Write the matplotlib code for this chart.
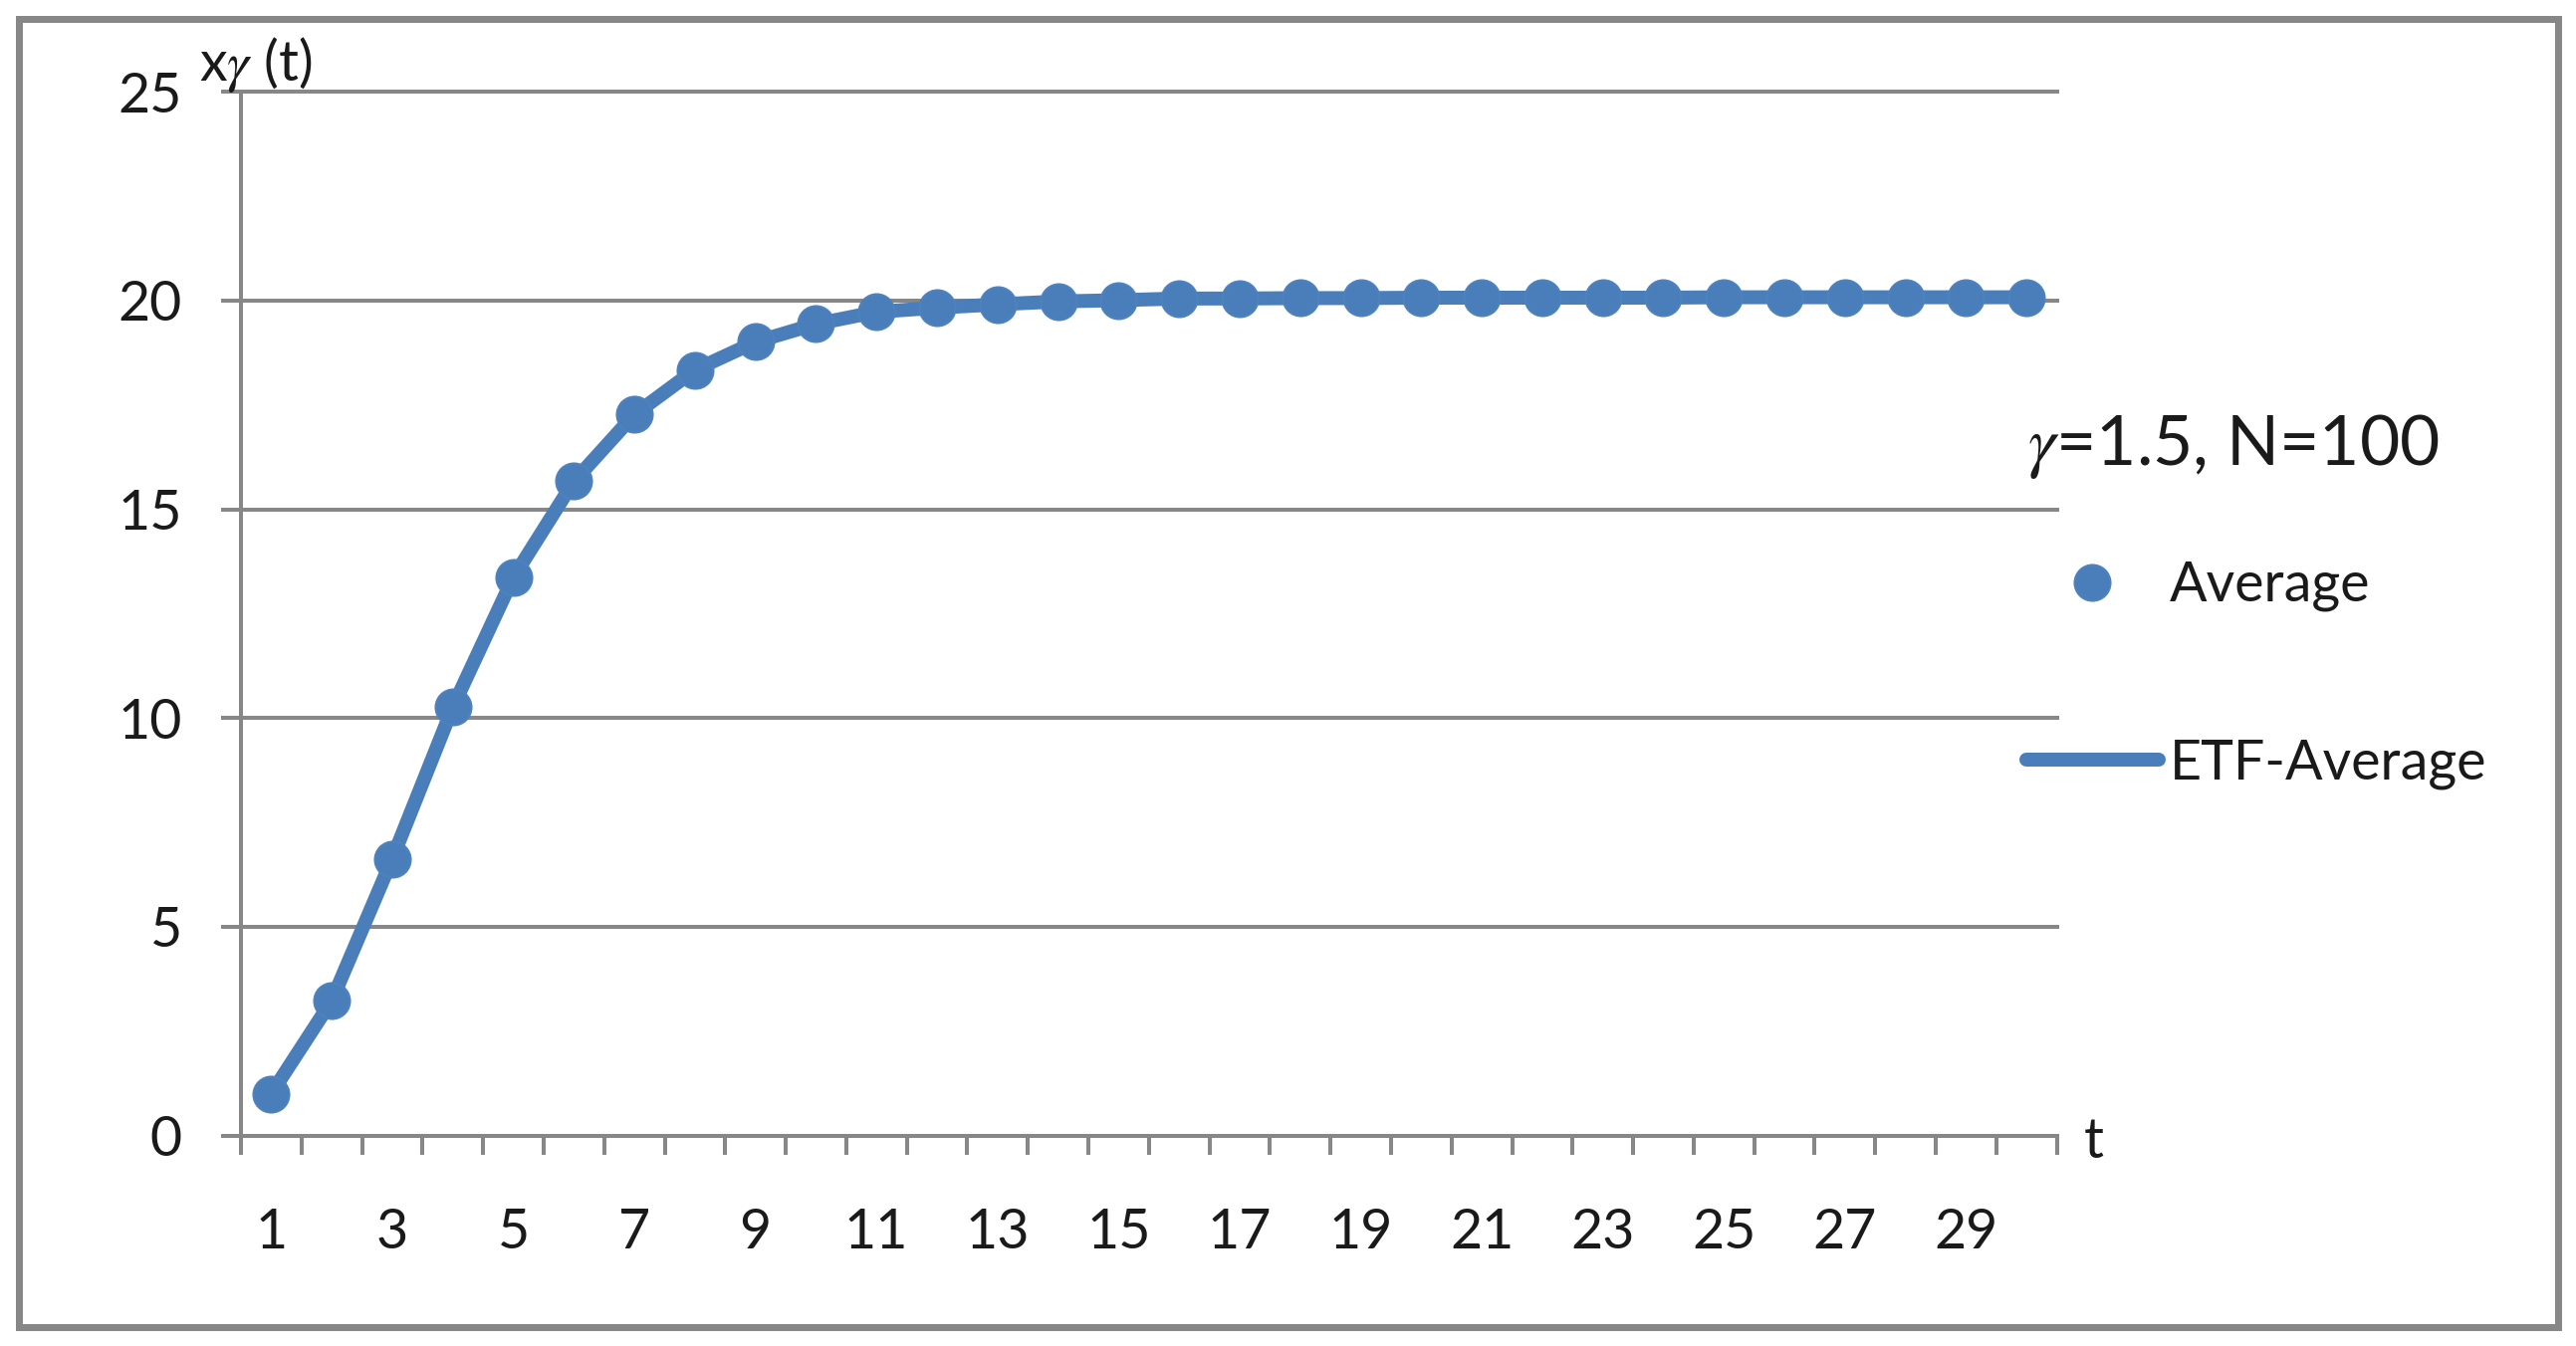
import matplotlib
matplotlib.use("Agg")
import matplotlib.pyplot as plt
from matplotlib.patches import Rectangle
from matplotlib.lines import Line2D

# ---- data ----
t_values = list(range(1, 31))
average = [1.00, 3.23, 6.63, 10.26, 13.37, 15.67, 17.27, 18.34, 19.01, 19.44,
           19.73, 19.83, 19.91, 19.98, 20.01, 20.05, 20.05, 20.06, 20.06, 20.07,
           20.07, 20.07, 20.07, 20.07, 20.08, 20.08, 20.08, 20.08, 20.08, 20.08]
etf_average = [1.00, 3.23, 6.63, 10.26, 13.37, 15.67, 17.27, 18.34, 19.01, 19.44,
               19.73, 19.83, 19.91, 19.98, 20.01, 20.05, 20.05, 20.06, 20.06, 20.07,
               20.07, 20.07, 20.07, 20.07, 20.08, 20.08, 20.08, 20.08, 20.08, 20.08]
y_ticks = [0, 5, 10, 15, 20, 25]
x_label_positions = list(range(1, 31, 2))
x_tick_labels = [str(v) for v in x_label_positions]
legend_title = r"$\gamma$=1.5, N=100"
series_names = ["Average", "ETF-Average"]

# ---- style ----
W, H, DPI = 2587, 1352, 100
PX = 72.0 / DPI  # points per pixel
BLUE = "#4A7EBB"
GRAY = "#878787"
TXT = "#1A1A1A"
plt.rcParams["font.family"] = ["Lato", "DejaVu Sans"]
plt.rcParams["mathtext.fontset"] = "stix"

fig = plt.figure(figsize=(W / DPI, H / DPI), dpi=DPI)
fig.patch.set_facecolor("white")

ax_left, ax_right = 242, 2065.6
y0_px, y25_px = 1140.5, 92.3
ax = fig.add_axes([ax_left / W, 1 - y0_px / H, (ax_right - ax_left) / W, (y0_px - y25_px) / H])

ax.plot(t_values, etf_average, color=BLUE, lw=14 * PX, solid_capstyle="round", zorder=3)
ax.plot(t_values, average, linestyle="none", marker="o", ms=36 * PX,
        mfc=BLUE, mec="#4E82BF", mew=1.5, zorder=4)

ax.set_xlim(0.5, 30.5)
ax.set_ylim(0, 25)

for s in ["top", "right"]:
    ax.spines[s].set_visible(False)
for s in ["left", "bottom"]:
    ax.spines[s].set_color(GRAY)
    ax.spines[s].set_linewidth(4 * PX)

ax.set_yticks(y_ticks)
ax.yaxis.grid(True, color=GRAY, lw=4 * PX)
for gl in ax.get_ygridlines():
    gl.set_clip_on(False)
ax.set_axisbelow(True)
ax.tick_params(axis="y", direction="out", length=20 * PX, width=4 * PX, color=GRAY,
               labelsize=40, labelcolor=TXT, pad=39 * PX)

ax.set_xticks([v + 0.5 for v in range(0, 31)])
ax.set_xticklabels([])
ax.set_xticks(x_label_positions, minor=True)
ax.set_xticklabels(x_tick_labels, minor=True)
ax.tick_params(axis="x", which="major", direction="out", length=19 * PX, width=4 * PX, color=GRAY)
ax.tick_params(axis="x", which="minor", length=0, labelsize=40, labelcolor=TXT, pad=73 * PX)

# axis titles
fig.text(200 / W, 1 - 81 / H, r"x$\gamma$ (t)", fontsize=40, color=TXT, va="baseline", ha="left")
fig.text(2093 / W, 1 - 1163 / H, "t", fontsize=40, color=TXT, va="baseline", ha="left")

# legend
fig.text(2036 / W, 1 - 467 / H, legend_title, fontsize=50, color=TXT, va="baseline", ha="left")
handles = [Line2D([], [], linestyle="none", marker="o", ms=36 * PX, mfc=BLUE, mec="#4E82BF", mew=1.5),
           Line2D([], [], color=BLUE, lw=14 * PX, solid_capstyle="round")]
leg = fig.legend(handles, series_names, loc="upper left",
                 bbox_to_anchor=(2035 / W, 1 - 563 / H), frameon=False, fontsize=40,
                 borderpad=0, borderaxespad=0, handlelength=133 / 55.6, handletextpad=0.2,
                 labelspacing=2.29, labelcolor=TXT)

# outer frame
fig.add_artist(Rectangle((19.3 / W, 1 - 1332.5 / H), (2568.5 - 19.3) / W, (1332.5 - 19.3) / H,
                         transform=fig.transFigure, fill=False, edgecolor=GRAY, lw=7 * PX))

fig.savefig("out.png", dpi=DPI, facecolor="white")
